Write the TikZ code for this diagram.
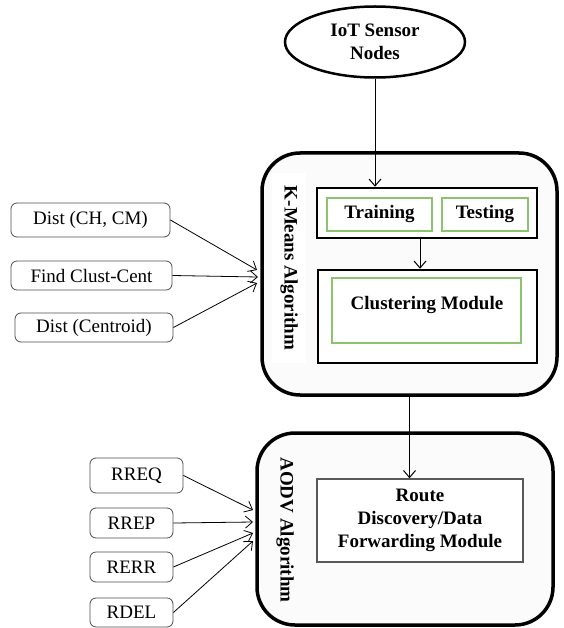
\documentclass[tikz,border=0pt]{standalone}
\usepackage{fontspec}
\setmainfont{Liberation Serif}
\usetikzlibrary{shapes.geometric, arrows.meta}
\tikzset{>={Straight Barb[length=7pt,width=12pt]}}
\definecolor{boxgreen}{RGB}{140,196,110}
\definecolor{boxfill}{RGB}{251,251,251}

\begin{document}
\begin{tikzpicture}[x=1pt, y=-1pt,
    bigbox/.style = {draw, line width=3.5pt, rounded corners=38pt, fill=boxfill},
    modbox/.style = {draw, line width=2.5pt, fill=white},
    greenbox/.style = {draw=boxgreen, line width=1.2pt, fill=white},
    inbox/.style = {draw=black!70, rounded corners=6pt, line width=0.8pt,
                    font=\fontsize{19}{22}\selectfont},
    bold/.style = {font=\fontsize{19}{23}\selectfont\bfseries}]
    \useasboundingbox (0,0) rectangle (563,628);
    % IoT input
    \node [ellipse, draw, line width=2.5pt, minimum width=180pt, minimum height=71pt,
           align=center, bold, inner sep=0pt] (iot) at (375,42) {IoT Sensor\\Nodes};
    % K-Means block
    \node [bigbox, minimum width=295pt, minimum height=242pt] (kmeans) at (409.5,274) {};
    \node [bold, rotate=-90, fill=white, minimum width=190pt, minimum height=34pt] (kmlabel) at (289,268) {K-Means Algorithm};
    \node [modbox, minimum width=220pt, minimum height=50pt] (trainbox) at (427,213) {};
    \node [greenbox, bold, minimum width=105pt, minimum height=33pt] (train) at (379.5,214.5) {Training};
    \node [greenbox, bold, minimum width=86pt, minimum height=33pt] (test) at (485,214.5) {Testing};
    \node [modbox, minimum width=219pt, minimum height=93pt] (clust) at (427.5,316.5) {};
    \node [greenbox, minimum width=189pt, minimum height=65pt] (cmod) at (426.5,310.5) {};
    \node [bold] (cmodtext) at (427,305) {Clustering Module};
    % AODV block
    \node [bigbox, minimum width=296pt, minimum height=192pt] (aodv) at (405,529) {};
    \node [bold, rotate=-90] (aodvlabel) at (285,530) {AODV Algorithm};
    \node [draw=black!65, line width=1.5pt, fill=white, minimum width=206pt, minimum height=83pt,
           align=center, bold] (route) at (420,520.5) {Route\\Discovery/Data\\Forwarding Module};
    % k-means inputs
    \node [inbox, minimum width=159pt, minimum height=34pt] (d1) at (90.5,220) {Dist (CH, CM)};
    \node [inbox, minimum width=161pt, minimum height=29pt] (d2) at (91.5,275.5) {Find Clust-Cent};
    \node [inbox, minimum width=158pt, minimum height=29pt] (d3) at (94,327.5) {Dist (Centroid)};
    \coordinate (k1) at (257,270);
    \coordinate (k2) at (258,277);
    \coordinate (k3) at (257,283);
    % aodv inputs
    \node [inbox, minimum width=93pt, minimum height=35pt] (rreq) at (136.5,475.5) {RREQ};
    \node [inbox, minimum width=83pt, minimum height=30pt] (rrep) at (131.5,523) {RREP};
    \node [inbox, minimum width=83pt, minimum height=30pt] (rerr) at (131.5,567) {RERR};
    \node [inbox, minimum width=83pt, minimum height=29pt] (rdel) at (131.5,612.5) {RDEL};
    \coordinate (a1) at (253,510);
    \coordinate (a2) at (253,522);
    \coordinate (a3) at (253,533);
    \coordinate (a4) at (253,541);
    % connectors
    \draw [->, line width=1pt] (iot.south) -- (iot.south |- trainbox.north);
    \draw [->, line width=1pt] ([xshift=-7pt]trainbox.south) -- ([xshift=-7pt]trainbox.south |- clust.north);
    \draw [->, line width=1pt] (kmeans.south) -- (kmeans.south |- route.north);
    \draw [->, line width=0.8pt] (d1.east) -- (k1);
    \draw [->, line width=0.8pt] (d2.east) -- (k2);
    \draw [->, line width=0.8pt] (d3.east) -- (k3);
    \draw [->, line width=0.8pt] (rreq.east) -- (a1);
    \draw [->, line width=0.8pt] (rrep.east) -- (a2);
    \draw [->, line width=0.8pt] (rerr.east) -- (a3);
    \draw [->, line width=0.8pt] (rdel.east) -- (a4);
\end{tikzpicture}
\end{document}
